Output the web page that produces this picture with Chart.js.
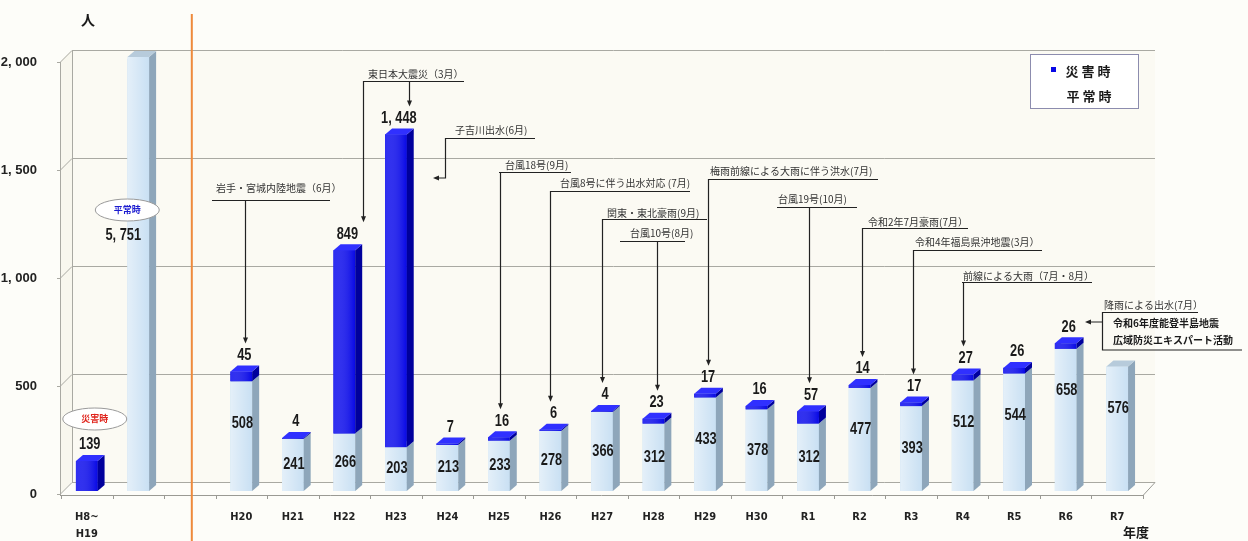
<!DOCTYPE html>
<html lang="ja">
<head>
<meta charset="utf-8">
<script src="https://cdn.jsdelivr.net/npm/chart.js@4.4.1/dist/chart.umd.min.js"></script>
<style>
  html, body { margin: 0; padding: 0; background: #fdfdf9; }
  #wrap { position: relative; width: 1248px; height: 541px; }
</style>
</head>
<body>
<div id="wrap"><canvas id="chart" width="1248" height="541"></canvas></div>
<script>
// ---- data ----
const categories = [['H8~', 'H19'], '', '', 'H20', 'H21', 'H22', 'H23', 'H24', 'H25', 'H26', 'H27',
  'H28', 'H29', 'H30', 'R1', 'R2', 'R3', 'R4', 'R5', 'R6', 'R7'];
const normalCounts = [null, 5751, null, 508, 241, 266, 203, 213, 233, 278, 366, 312, 433, 378, 312,
  477, 393, 512, 544, 658, 576];
const disasterCounts = [139, null, null, 45, 4, 849, 1448, 7, 16, 6, 4, 23, 17, 16, 57, 14, 17, 27,
  26, 26, null];
const yTicks = [0, 500, 1000, 1500, 2000];
const seriesNames = ['平常時', '災害時'];

// events written over the bars, and the year(s) each one points at
const eventNames = ['岩手・宮城内陸地震（6月）', '東日本大震災（3月）', '子吉川出水(6月)', '台風18号(9月)',
  '台風8号に伴う出水対応 (7月)', '関東・東北豪雨(9月)', '台風10号(8月)', '梅雨前線による大雨に伴う洪水(7月)',
  '台風19号(10月)', '令和2年7月豪雨(7月）', '令和4年福島県沖地震(3月）', '前線による大雨（7月・8月）',
  '降雨による出水(7月）'];
const eventYears = [[3], [5, 6], [6], [8], [9], [10], [11], [12], [14], [15], [16], [17], [19]];
const notoNote = ['令和6年度能登半島地震', '広域防災エキスパート活動'];

// ---- layout (pixels) ----
const callouts = [
  { tx: 216, ty: 188, ly: 200, lx0: 212, lx1: 330, dx: [4] },
  { tx: 368, ty: 74, ly: 81, lx0: 364, lx1: 464, dx: [19, 13] },
  { tx: 455, ty: 130, ly: 138, lx0: 445, lx1: 535, side: { x: 445, y: 178, to: 433 } },
  { tx: 505, ty: 165, ly: 172, lx0: 499, lx1: 571, dx: [1] },
  { tx: 560, ty: 183, ly: 191, lx0: 550, lx1: 690, dx: [0] },
  { tx: 607, ty: 213, ly: 219, lx0: 602, lx1: 707, dx: [0] },
  { tx: 630, ty: 233, ly: 241, lx0: 620, lx1: 685, dx: [3] },
  { tx: 710, ty: 171, ly: 179, lx0: 708, lx1: 878, dx: [3] },
  { tx: 778, ty: 199, ly: 207, lx0: 777, lx1: 857, dx: [1] },
  { tx: 868, ty: 222, ly: 228, lx0: 862, lx1: 968, dx: [2] },
  { tx: 915, ty: 242, ly: 250, lx0: 913, lx1: 1042, dx: [2] },
  { tx: 963, ty: 276, ly: 282, lx0: 962, lx1: 1092, dx: [0] },
  { tx: 1104, ty: 305, ly: 312, lx0: 1102, lx1: 1198, side: { x: 1102, y: 350, to: 1085, ay: 322, boxTo: 1242 } }
];

const faces = [
  { front: '#c9e0f3', side: '#8ea6ba', top: '#b7cbdb', shine: 'rgba(255,255,255,0.5)' },
  { front: '#0808e6', side: '#00009c', top: '#3030ff', shine: 'rgba(90,90,255,0.45)' }
];
const NUM_FONT = "'Liberation Sans', Arial, sans-serif";
const JP_FONT = "'Noto Sans CJK JP', sans-serif";

function fmt(v) {
  return v.toLocaleString('en-US').replace(/,/g, ', ');
}

// narrow-looking numbers: squeeze Liberation Sans horizontally
function narrowText(ctx, text, x, y) {
  ctx.save();
  ctx.translate(x, y);
  ctx.scale(0.8, 1);
  ctx.fillText(text, 0, 0);
  ctx.restore();
}

function arrowDown(ctx, x, y) {
  ctx.beginPath();
  ctx.moveTo(x, y);
  ctx.lineTo(x - 2.5, y - 6);
  ctx.lineTo(x + 2.5, y - 6);
  ctx.closePath();
  ctx.fill();
}

function arrowLeft(ctx, x, y) {
  ctx.beginPath();
  ctx.moveTo(x, y);
  ctx.lineTo(x + 6, y - 2.5);
  ctx.lineTo(x + 6, y + 2.5);
  ctx.closePath();
  ctx.fill();
}

// back wall, left wall, floor and grid lines in fake 3D
const walls = {
  id: 'walls',
  beforeDatasetsDraw(chart) {
    const { ctx, chartArea: a, scales: { y } } = chart;
    const fl = a.left - 1, bl = a.left + 11, br = a.right + 12;
    const y0 = y.getPixelForValue(0), yTop = y.getPixelForValue(2000);
    ctx.save();
    ctx.fillStyle = '#fbfaf3';
    ctx.fillRect(bl, yTop - 9, br - bl, y0 - yTop);
    ctx.fillStyle = '#f8f7ee';
    ctx.beginPath();
    ctx.moveTo(fl, yTop + 3); ctx.lineTo(bl, yTop - 9); ctx.lineTo(bl, y0 - 9); ctx.lineTo(fl, y0 + 3);
    ctx.closePath(); ctx.fill();
    ctx.strokeStyle = '#a9a9a2';
    ctx.lineWidth = 1;
    yTicks.forEach(v => {
      const py = Math.round(y.getPixelForValue(v)) + 0.5;
      ctx.beginPath();
      ctx.moveTo(fl - 3, py + 3); ctx.lineTo(fl, py + 3); ctx.lineTo(bl, py - 9); ctx.lineTo(br, py - 9);
      ctx.stroke();
    });
    ctx.beginPath();
    ctx.moveTo(fl + 0.5, yTop + 3); ctx.lineTo(fl + 0.5, y0 + 4);
    ctx.moveTo(bl + 0.5, yTop - 9); ctx.lineTo(bl + 0.5, y0 - 9);
    ctx.stroke();
    // front edge of the floor with category ticks
    ctx.strokeStyle = '#9a9a94';
    ctx.beginPath();
    ctx.moveTo(fl, y0 + 4.5); ctx.lineTo(a.right, y0 + 4.5); ctx.lineTo(br, y0 - 8.5);
    for (let i = 0; i <= categories.length; i++) {
      const px = Math.round(a.left + i * (a.right - a.left) / categories.length) + 0.5;
      ctx.moveTo(px, y0 + 4); ctx.lineTo(px, y0 + 8);
    }
    ctx.stroke();
    ctx.restore();
  }
};

// front, side and top faces for every bar segment, bottom segment first
const bar3d = {
  id: 'bar3d',
  afterDatasetsDraw(chart) {
    const { ctx, chartArea: a } = chart;
    const D = 7, H = 6;
    ctx.save();
    chart.data.datasets.forEach((ds, di) => {
      const f = faces[di];
      chart.getDatasetMeta(di).data.forEach((bar, i) => {
        if (ds.data[i] == null) return;
        const { x, y, base, width } = bar.getProps(['x', 'y', 'base', 'width'], true);
        const top = Math.max(y, a.top - 2);
        const l = x - width / 2, r = x + width / 2;
        ctx.fillStyle = f.front;
        ctx.fillRect(l, top, width, base - top);
        const g = ctx.createLinearGradient(l, 0, r, 0);
        g.addColorStop(0, f.shine);
        g.addColorStop(1, 'rgba(255,255,255,0)');
        ctx.fillStyle = g;
        ctx.fillRect(l, top, width, base - top);
        ctx.fillStyle = f.side;
        ctx.beginPath();
        ctx.moveTo(r, top); ctx.lineTo(r + D, top - H); ctx.lineTo(r + D, base - H); ctx.lineTo(r, base);
        ctx.closePath(); ctx.fill();
        ctx.fillStyle = f.top;
        ctx.beginPath();
        ctx.moveTo(l, top); ctx.lineTo(r, top); ctx.lineTo(r + D, top - H); ctx.lineTo(l + D, top - H);
        ctx.closePath(); ctx.fill();
      });
    });
    ctx.restore();
  }
};

// value labels, bubbles, legend, axis titles, divider
const labels = {
  id: 'labels',
  afterDatasetsDraw(chart) {
    const { ctx, scales: { x } } = chart;
    const mNorm = chart.getDatasetMeta(0), mDis = chart.getDatasetMeta(1);
    ctx.save();
    ctx.textAlign = 'center';
    ctx.textBaseline = 'middle';
    ctx.fillStyle = '#1a1a1a';
    ctx.font = 'bold 16px ' + NUM_FONT;
    mNorm.data.forEach((bar, i) => {
      const v = normalCounts[i];
      if (v == null || i === 1) return;
      const h = bar.base - bar.y;
      narrowText(ctx, fmt(v), bar.x + 1, bar.y + Math.min(h / 2, 42));
    });
    mDis.data.forEach((bar, i) => {
      const v = disasterCounts[i];
      if (v == null) return;
      narrowText(ctx, fmt(v), bar.x + 3, bar.y - 16);
    });
    // 平常時 total for H8~H19 (bar is cut off at 2,000)
    const nb = mNorm.data[1];
    narrowText(ctx, fmt(normalCounts[1]), nb.x - 15, 236);
    const db = mDis.data[0];
    const bubble = (cx, cy, text, color) => {
      ctx.fillStyle = '#ffffff';
      ctx.strokeStyle = '#9a9a9a';
      ctx.lineWidth = 1;
      ctx.beginPath();
      ctx.ellipse(cx, cy, 32, 11, 0, 0, Math.PI * 2);
      ctx.fill(); ctx.stroke();
      ctx.fillStyle = color;
      ctx.font = 'bold 9px ' + JP_FONT;
      ctx.fillText(text, cx, cy);
    };
    bubble(nb.x - 11, 210, seriesNames[0], '#1c1cd0');
    bubble(db.x + 8, 419, seriesNames[1], '#e0241c');

    // divider between H8~H19 and yearly data
    ctx.strokeStyle = '#ee8a3c';
    ctx.lineWidth = 2;
    const ox = x.getPixelForValue(2) + 2;
    ctx.beginPath(); ctx.moveTo(ox, 14); ctx.lineTo(ox, 541); ctx.stroke();

    // legend
    ctx.fillStyle = '#ffffff';
    ctx.strokeStyle = '#8c8cae';
    ctx.lineWidth = 1;
    ctx.fillRect(1030, 54, 108, 54);
    ctx.strokeRect(1030.5, 54.5, 108, 54);
    ctx.fillStyle = chart.data.datasets[1].backgroundColor;
    ctx.fillRect(1051, 67, 5, 5);
    ctx.fillStyle = '#1a1a1a';
    ctx.font = 'bold 13px ' + JP_FONT;
    ctx.fillText(seriesNames[1].split('').join(' '), 1088, 71);
    ctx.fillText(seriesNames[0].split('').join(' '), 1089, 96);

    // axis titles
    ctx.font = 'bold 14px ' + JP_FONT;
    ctx.fillText('人', 88, 20);
    ctx.font = 'bold 13px ' + JP_FONT;
    ctx.fillText('年度', 1136, 532);
    ctx.restore();
  }
};

// event call-outs with leader lines
const eventNotes = {
  id: 'eventNotes',
  afterDraw(chart) {
    const { ctx, scales: { x, y } } = chart;
    ctx.save();
    ctx.lineWidth = 1.2;
    ctx.strokeStyle = '#222';
    ctx.textBaseline = 'middle';
    ctx.textAlign = 'left';
    callouts.forEach((c, k) => {
      ctx.fillStyle = '#333';
      ctx.font = '10px ' + JP_FONT;
      ctx.fillText(eventNames[k], c.tx, c.ty);
      ctx.beginPath();
      ctx.moveTo(c.lx0, c.ly + 0.5); ctx.lineTo(c.lx1, c.ly + 0.5);
      ctx.stroke();
      ctx.fillStyle = '#222';
      if (c.side) {
        const s = c.side;
        ctx.beginPath();
        ctx.moveTo(s.x + 0.5, c.ly); ctx.lineTo(s.x + 0.5, s.y);
        if (s.boxTo) {
          ctx.lineTo(s.boxTo, s.y);
          ctx.moveTo(s.x, s.ay); ctx.lineTo(s.to + 5, s.ay);
        } else {
          ctx.lineTo(s.to + 5, s.y);
        }
        ctx.stroke();
        arrowLeft(ctx, s.to, s.boxTo ? s.ay : s.y);
        return;
      }
      eventYears[k].forEach((cat, j) => {
        const px = Math.round(x.getPixelForValue(cat) + c.dx[j]) + 0.5;
        const total = (normalCounts[cat] || 0) + (disasterCounts[cat] || 0);
        const tip = y.getPixelForValue(total) - 28;
        ctx.beginPath();
        ctx.moveTo(px, c.ly); ctx.lineTo(px, tip - 4);
        ctx.stroke();
        arrowDown(ctx, px, tip);
      });
    });
    // 能登 note inside the last call-out box
    ctx.fillStyle = '#1a1a1a';
    ctx.font = 'bold 10px ' + JP_FONT;
    ctx.fillText(notoNote[0], 1113, 323);
    ctx.fillText(notoNote[1], 1113, 340);
    ctx.restore();
  }
};

new Chart(document.getElementById('chart'), {
  type: 'bar',
  data: {
    labels: categories,
    datasets: [
      { label: seriesNames[0], data: normalCounts, backgroundColor: faces[0].front },
      { label: seriesNames[1], data: disasterCounts, backgroundColor: faces[1].front }
    ]
  },
  options: {
    responsive: false,
    animation: false,
    layout: { padding: { top: 59, right: 105, left: 0, bottom: 0 } },
    datasets: { bar: { barPercentage: 0.42, categoryPercentage: 1, borderWidth: 0 } },
    scales: {
      x: {
        stacked: true,
        grid: { display: false },
        border: { display: false },
        ticks: {
          autoSkip: false, maxRotation: 0, padding: 10, color: '#222',
          font: { family: "'DejaVu Sans Condensed', sans-serif", size: 11, weight: 'bold', lineHeight: 1.5 }
        },
        afterFit: s => { s.height = 50; }
      },
      y: {
        stacked: true,
        min: 0,
        max: 2000,
        grid: { display: false },
        border: { display: false },
        afterBuildTicks: s => { s.ticks = yTicks.map(v => ({ value: v })); },
        ticks: {
          padding: 16, labelOffset: 3, color: '#222',
          font: { family: NUM_FONT, size: 13, weight: 'bold' },
          callback: v => fmt(v)
        },
        afterFit: s => { s.width = 61; }
      }
    },
    plugins: { legend: { display: false }, tooltip: { enabled: false } }
  },
  plugins: [walls, bar3d, labels, eventNotes]
});
</script>
</body>
</html>
